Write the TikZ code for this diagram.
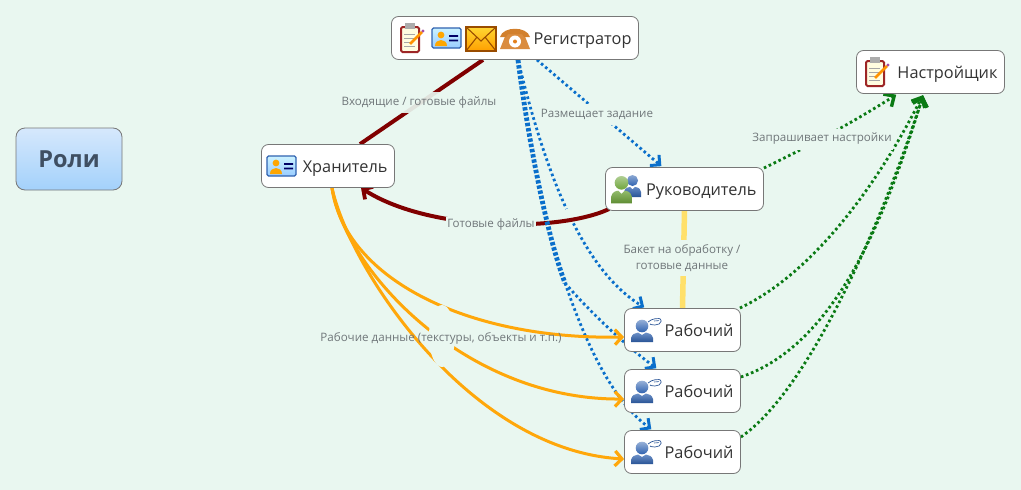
\documentclass[tikz,border=0pt]{standalone}
\usepackage{fontspec}
\setmainfont{Open Sans}
\usetikzlibrary{arrows.meta,calc}
\pgfdeclarelayer{bg}
\pgfsetlayers{bg,main}
\definecolor{bgc}{HTML}{E9F7F0}
\definecolor{bdr}{HTML}{777777}
\definecolor{dred}{HTML}{800000}
\definecolor{blu}{HTML}{0A6FCB}
\definecolor{grn}{HTML}{0A7A14}
\definecolor{org}{HTML}{FFA70A}
\definecolor{yel}{HTML}{FFE06A}
\definecolor{lab}{HTML}{70777A}
\definecolor{pblue}{HTML}{2F62B0}
\definecolor{pgreen}{HTML}{6FA53B}
\definecolor{rootT}{HTML}{D6E8FC}
\definecolor{rootB}{HTML}{A3D1FB}
\definecolor{rootX}{HTML}{3F4F62}
\tikzset{
  topic/.style={draw=bdr,fill=white,rounded corners=7pt,line width=.8pt,minimum width=#1,minimum height=43pt,inner xsep=7pt,inner ysep=0pt,text width=#1-14pt,align=right,text height=15pt,text depth=3pt,font=\fontsize{16.3}{18}\selectfont,text=black!80},
  root/.style={draw=bdr,rounded corners=9pt,line width=.8pt,top color=rootT,bottom color=rootB,minimum width=106pt,minimum height=62pt,font=\fontsize{23.5}{25}\selectfont\bfseries,text=rootX},
  rel/.style={font=\fontsize{11.6}{16}\selectfont,text=lab,align=center,inner sep=1pt},
  relk/.style={rel,fill=bgc,fill opacity=#1,text opacity=1},
  knock/.style={fill=bgc,draw=none},
  redl/.style={draw=dred,line width=4pt},
  bdot/.style={draw=blu,line width=2.8pt,dash pattern=on 2.6pt off 2.8pt},
  bdotw/.style={draw=blu,line width=4.8pt,dash pattern=on 3.4pt off 1.9pt},
  gdot/.style={draw=grn,line width=2.8pt,dash pattern=on 2.6pt off 2.8pt},
  ol/.style={draw=org,line width=3pt},
  headb/.style={-{Straight Barb[length=7pt,width=14pt,line width=3pt]},shorten >=1.5pt},
  headg/.style={-{Straight Barb[length=8pt,width=15pt,line width=3.4pt]},shorten >=1.5pt},
  headr/.style={-{Straight Barb[length=7pt,width=15pt,line width=3.8pt]}},
  heado/.style={-{Straight Barb[length=7pt,width=15pt,line width=3.2pt]}},
}
\newcommand{\iconcard}[2]{\begin{scope}[shift={(#1,#2)}]
 \draw[draw=pblue,top color=blue!25!cyan!20,bottom color=blue!50!cyan!40,rounded corners=1.5pt,line width=1.1pt] (0,0) rectangle (29,20);
 \fill[orange!70!yellow] (9,7) circle (3.4) (3,18) .. controls (3,10) and (15,10) .. (15,18) -- cycle;
 \fill[blue!40!black] (17,7) rectangle (26,8.8) (17,11.5) rectangle (26,13.3);
\end{scope}}
\newcommand{\iconclip}[2]{\begin{scope}[shift={(#1,#2)}]
 \draw[draw=red!55!black!85!white,fill=yellow!12,rounded corners=1.5pt,line width=2pt] (1,4) rectangle (19,29);
 \fill[gray!65] (5,0) rectangle (15,6);
 \draw[gray!70,line width=.6pt] (4,11)--(15,11) (4,15)--(14,15) (4,19)--(12,19) (4,23)--(15,23);
 \draw[orange!85!yellow,line width=2.8pt] (10,21) -- (22,9);
 \fill[violet!70] (23,8) circle (1.6);
\end{scope}}
\newcommand{\iconmail}[2]{\begin{scope}[shift={(#1,#2)}]
 \draw[draw=orange!60!black,top color=yellow!60!orange!80,bottom color=orange!75!yellow,line width=1.2pt] (0,0) rectangle (30,24);
 \draw[draw=orange!60!black,line width=1.1pt] (0,0) -- (15,14) -- (30,0) (0,24) -- (11,10) (30,24) -- (19,10);
\end{scope}}
\newcommand{\iconphone}[2]{\begin{scope}[shift={(#1,#2)}]
 \fill[brown!65!orange!90!white] (6,7) -- (24,7) -- (30,22) -- (0,22) -- cycle;
 \fill[brown!70!orange] (0,10) .. controls (3,-1) and (27,-1) .. (30,10) -- (24,10) -- (22,7) -- (8,7) -- (6,10) -- cycle;
 \fill[white] (15,14.5) circle (6);
 \fill[brown!45!orange] (15,14.5) circle (2);
\end{scope}}
\newcommand{\iconperson}[4]{\begin{scope}[shift={(#1,#2)},scale=#3]
 \shade[top color=#4!55!white,bottom color=#4] (10,6.5) circle (6.5);
 \shade[top color=#4!75!white,bottom color=#4!85!black] (0,26) -- (0,20) .. controls (1,15) and (5,14) .. (7,14) -- (10,17) -- (13,14) .. controls (15,14) and (19,15) .. (20,20) -- (20,26) -- cycle;
\end{scope}}
\newcommand{\iconworker}[2]{\begin{scope}[shift={(#1,#2)}]
 \shade[top color=pblue!50!white,bottom color=pblue] (11,8) circle (6.3);
 \shade[top color=pblue!70!white,bottom color=pblue!85!black] (0,24) -- (0,20) .. controls (1,16) and (4,15) .. (7,14.5) -- (11,17) -- (15,14.5) .. controls (18,15) and (21,16) .. (22,20) -- (22,24) -- cycle;
 \draw[pblue!85!black,line width=.7pt,rounded corners=2pt] (17,4) -- (22,0.8) -- (30,0.5) -- (30,5.5) -- (22,7.5) -- (19,6);
 \draw[pblue!85!black,line width=.6pt] (23,3) -- (28,2.6);
\end{scope}}
\begin{document}
\begin{tikzpicture}[x=1pt,y=-1pt]
\useasboundingbox (0,0) rectangle (1021,490);

\node[root] (roli) at (69,159) {Роли};
\node[topic=247pt] (reg) at (515,38) {Регистратор};
\node[topic=148pt] (nas) at (930.5,72) {Настройщик};
\node[topic=133pt] (hra) at (328,166) {Хранитель};
\node[topic=158pt] (ruk) at (684.5,189) {Руководитель};
\node[topic=116pt] (w1) at (682.5,330) {Рабочий};
\node[topic=116pt] (w2) at (682.5,391) {Рабочий};
\node[topic=116pt] (w3) at (682.5,452) {Рабочий};
\coordinate (trunk) at (565,283);

\begin{pgfonlayer}{bg}
\fill[bgc] (0,0) rectangle (1021,490);

% Регистратор -> Рабочий 1
\draw[bdot,headb] ($(reg.south)+(3,0)$) .. controls (540,150) and (575,265) .. ($(w1.north)+(-37,0)$);
\fill[knock] (570,216) circle (8);

% Регистратор -> Хранитель
\draw[redl] ($(reg.south)+(-32,0)$) -- ($(hra.north)+(32,0)$);
% Руководитель -> Хранитель
\draw[redl,headr] ($(ruk.west)+(4,20)$) .. controls (560,232) and (430,232) .. ($(hra.south)+(33,0)$);

% Регистратор -> Рабочие 2, 3 (общий участок)
\draw[bdotw] ($(reg.south)+(3,0)$) .. controls (527,130) and (545,230) .. (trunk);
\draw[bdot,headb] (trunk) .. controls (590,312) and (625,345) .. ($(w2.north)+(-25,0)$);
\draw[bdot,headb] (trunk) .. controls (578,320) and (605,395) .. ($(w3.north)+(-30,0)$);

% Руководитель - Рабочий
\draw[draw=yel,line width=5.5pt] (ruk.south) -- (w1.north);
% Регистратор -> Руководитель
\draw[bdot,headb] ($(reg.south)+(22,0)$) -- ($(ruk.north)+(-22,0)$);

% -> Настройщик
\draw[gdot,headg] ($(ruk.east)+(0,-21)$) .. controls (810,146) and (860,118) .. ($(nas.south)+(-33,0)$);
\draw[gdot,headg] ($(w1.east)+(-1,-22)$) .. controls (810,275) and (875,190) .. ($(nas.south)+(-7,0)$);
\draw[gdot,headg] ($(w2.east)+(0,-14)$) .. controls (835,345) and (885,220) .. ($(nas.south)+(-7,0)$);
\draw[gdot,headg] ($(w3.east)+(0,-15)$) .. controls (810,390) and (885,215) .. ($(nas.south)+(-7,0)$);

% Хранитель -> Рабочие
\draw[ol,heado] ($(hra.south)+(4,0)$) .. controls (345,280) and (470,340) .. ($(w1.west)+(0,7)$);
\draw[ol,heado] ($(hra.south)+(4,0)$) .. controls (345,270) and (465,400) .. ($(w2.west)+(0,8)$);
\draw[ol,heado] ($(hra.south)+(4,0)$) .. controls (350,270) and (470,450) .. ($(w3.west)+(0,7)$);
\fill[knock] (442,336) ellipse (13 and 31);
\end{pgfonlayer}

% labels
\node[relk=.92,minimum height=21pt] (l1) at (419,102) {Входящие / готовые файлы};
\node[relk=1,inner ysep=0pt,minimum height=15pt] (l2) at (491,224) {Готовые файлы};
\node[relk=1,inner sep=2pt,minimum height=36pt] (l3) at (682,258) {Бакет на обработку /\\готовые данные};
\node[relk=1,minimum height=21pt] (l4) at (597,114) {Размещает задание};
\node[relk=1,minimum height=21pt] (l5) at (822,139) {Запрашивает настройки};
\node[rel] (l6) at (441,338) {Рабочие данные (текстуры, объекты и т.п.)};

% icons
\iconclip{400}{23}\iconcard{432}{28}\iconmail{466}{27}\iconphone{500}{27}
\iconclip{865}{57}
\iconcard{267}{156}
\iconperson{624}{175}{.85}{pblue}
\iconperson{611}{176}{1.05}{pgreen}
\iconworker{631}{318}\iconworker{631}{379}\iconworker{631}{440}
\end{tikzpicture}
\end{document}
